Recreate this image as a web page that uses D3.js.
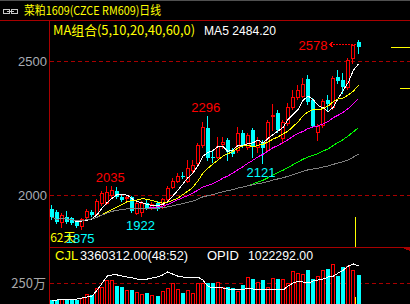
<!DOCTYPE html>
<html>
<head>
<meta charset="utf-8">
<script src="https://cdn.jsdelivr.net/npm/d3@7"></script>
<style>
html, body { margin: 0; padding: 0; background: #000; overflow: hidden; }
svg { display: block; }
</style>
</head>
<body>
<div id="chart"></div>
<script>
// 菜粕1609 日线: 开 高 低 收
var opens  = [1948,1937,1899,1918,1914,1899,1884,1918,1937,1929,1970,1970,2000,2015,1993,1989,1993,1933,1937,1970,1952,1970,1955,1985,2030,2052,2071,2052,2093,2119,2187,2250,2142,2142,2190,2205,2168,2168,2231,2179,2243,2179,2198,2168,2295,2306,2213,2269,2328,2366,2369,2433,2354,2235,2261,2354,2328,2440,2429,2403,2511,2571];
var highs  = [1963,1944,1933,1940,1918,1907,1914,1948,1944,1985,2015,2034,2035,2030,2000,1996,1996,1974,1978,1981,1974,1978,1989,2034,2063,2082,2086,2131,2131,2194,2272,2296,2168,2216,2216,2213,2175,2254,2243,2231,2250,2216,2205,2280,2340,2317,2280,2343,2392,2410,2437,2448,2362,2265,2358,2373,2444,2466,2455,2511,2563,2578];
var lows   = [1910,1896,1881,1896,1892,1881,1875,1914,1922,1925,1963,1966,1993,1989,1978,1981,1937,1929,1922,1948,1948,1944,1952,1981,2026,2049,2063,2049,2086,2112,2179,2131,2123,2138,2175,2131,2145,2160,2179,2172,2142,2160,2121,2164,2243,2235,2194,2261,2321,2358,2366,2340,2254,2205,2254,2317,2321,2418,2381,2396,2493,2530];
var closes = [1918,1899,1925,1899,1896,1884,1910,1940,1925,1978,2008,2011,2019,1993,1981,1993,1940,1970,1970,1952,1966,1948,1985,2026,2052,2071,2067,2101,2112,2187,2254,2138,2138,2183,2198,2160,2153,2231,2187,2224,2179,2205,2175,2272,2299,2243,2272,2328,2366,2392,2414,2347,2257,2257,2351,2340,2437,2425,2403,2504,2560,2552];
// 成交量 (CJL) 与 持仓量 (OPID)
var volumes = [568000,568000,682000,682000,682000,568000,795000,1250000,1136000,1932000,2045000,2841000,2841000,2159000,2045000,1705000,1705000,1477000,1250000,1364000,1136000,1023000,1591000,1932000,2500000,1818000,1364000,1705000,1364000,2500000,2500000,2500000,2500000,2614000,2045000,2045000,1932000,1591000,2273000,3182000,2955000,2614000,2841000,2045000,3068000,2955000,2955000,2500000,3864000,3636000,3523000,3977000,2955000,3295000,3977000,4091000,4659000,3295000,4318000,4432000,3977000,3360312];
var opid = [554000,567000,567000,580000,567000,580000,594000,607000,621000,701000,795000,888000,902000,902000,888000,875000,862000,848000,835000,848000,862000,875000,902000,942000,915000,888000,875000,862000,862000,875000,835000,754000,728000,741000,728000,714000,714000,714000,701000,728000,714000,714000,701000,714000,714000,701000,701000,754000,795000,821000,808000,795000,821000,835000,848000,875000,888000,929000,969000,1022000,1049000,1022292];

var maPeriods = [5, 10, 20, 40, 60];
var maColors = ["#ffffff", "#ffff00", "#ff00ff", "#00ff00", "#808080"];
var priceTicks = [2000, 2500];
var volTicks = [2500000];
var volTickLabels = ["250万"];
var highMarks = [12, 31];      // 标注最高价
var lowMarks = [6, 18, 42];    // 标注最低价
var lastMark = 61;

var RED = "#ff0000", CYAN = "#00ffff", GRID = "#a80000";

var svg = d3.select("#chart").append("svg")
    .attr("width", 410).attr("height", 304)
    .style("background", "#000")
    .attr("shape-rendering", "crispEdges");

var n = closes.length;
var x = d3.scaleLinear().domain([0, n - 1]).range([52, 358.5]);
var y = d3.scaleLinear().domain([2000, 2500]).range([195, 61]);
var yv = d3.scaleLinear().domain([0, 2500000]).range([305, 283]);
var yo = d3.scaleLinear().domain([500000, 1022292]).range([305, 266]);
function cx(i) { return Math.round(x(i)); }
function ry(v) { return Math.round(y(v)); }

// 边框
svg.append("line").attr("x1", 0).attr("x2", 410).attr("y1", 0.5).attr("y2", 0.5).attr("stroke", "#505050");
svg.append("line").attr("x1", 0).attr("x2", 410).attr("y1", 20.5).attr("y2", 20.5).attr("stroke", GRID);
svg.append("line").attr("x1", 49.5).attr("x2", 49.5).attr("y1", 20).attr("y2", 304).attr("stroke", GRID);
svg.append("line").attr("x1", 49).attr("x2", 410).attr("y1", 247.5).attr("y2", 247.5).attr("stroke", GRID);
svg.append("path").attr("d", "M400,247L410,247L410,251Z").attr("fill", GRID);

// 价格刻度
svg.selectAll(".pgrid").data(priceTicks).enter().append("line")
    .attr("x1", 50).attr("x2", 410)
    .attr("y1", function (d) { return ry(d) + 0.5; })
    .attr("y2", function (d) { return ry(d) + 0.5; })
    .attr("stroke", GRID).attr("stroke-dasharray", "4,3");
svg.selectAll(".plabel").data(priceTicks).enter().append("text")
    .attr("x", 47).attr("y", function (d) { return y(d) + 5; })
    .attr("text-anchor", "end").attr("fill", "#a8acb4")
    .style("font", "13px 'Liberation Sans', Arial, sans-serif")
    .text(function (d) { return d; });

// 成交量刻度
svg.selectAll(".vgrid").data(volTicks).enter().append("line")
    .attr("x1", 50).attr("x2", 410)
    .attr("y1", function (d) { return Math.round(yv(d)) + 0.5; })
    .attr("y2", function (d) { return Math.round(yv(d)) + 0.5; })
    .attr("stroke", GRID).attr("stroke-dasharray", "4,3");
svg.selectAll(".vlabel").data(volTicks).enter().append("text")
    .attr("x", 46).attr("y", function (d) { return yv(d) + 5; })
    .attr("text-anchor", "end").attr("fill", "#a8a8a8")
    .style("font", "13px 'Noto Sans CJK SC', sans-serif")
    .text(function (d, i) { return volTickLabels[i]; });

// 当前日竖线
svg.append("line").attr("x1", 355.5).attr("x2", 355.5).attr("y1", 217).attr("y2", 247).attr("stroke", "#ffff00");
svg.append("line").attr("x1", 355.5).attr("x2", 355.5).attr("y1", 297).attr("y2", 304).attr("stroke", "#ffff00");
svg.append("line").attr("x1", 391).attr("x2", 410).attr("y1", 47.5).attr("y2", 47.5).attr("stroke", "#ffff00");
svg.append("line").attr("x1", 400).attr("x2", 410).attr("y1", 88.5).attr("y2", 88.5).attr("stroke", "#ffff00");

// K线
var idx = d3.range(n);
var candles = svg.append("g");
idx.forEach(function (i) {
    var L = cx(i) - 2;
    var wx = L + 1.5;
    var up = closes[i] >= opens[i];
    var yh = ry(highs[i]), yl = ry(lows[i]);
    if (up) {
        var top = ry(closes[i]), bot = ry(opens[i]);
        candles.append("line").attr("x1", wx).attr("x2", wx).attr("y1", yh).attr("y2", top).attr("stroke", RED);
        candles.append("line").attr("x1", wx).attr("x2", wx).attr("y1", bot).attr("y2", yl + 1).attr("stroke", RED);
        if (bot - top < 1) {
            candles.append("line").attr("x1", L).attr("x2", L + 4).attr("y1", top + 0.5).attr("y2", top + 0.5).attr("stroke", RED);
        } else {
            candles.append("rect").attr("x", L + 0.5).attr("y", top + 0.5)
                .attr("width", 3).attr("height", bot - top)
                .attr("fill", "#000").attr("stroke", RED);
        }
    } else {
        var t = ry(opens[i]), b = ry(closes[i]);
        candles.append("line").attr("x1", wx).attr("x2", wx).attr("y1", yh).attr("y2", yl + 1).attr("stroke", CYAN);
        candles.append("rect").attr("x", L).attr("y", t)
            .attr("width", 4).attr("height", Math.max(1, b - t))
            .attr("fill", CYAN);
    }
});

// 均线
function movingAvg(p) {
    return closes.map(function (c, i) {
        return d3.mean(closes.slice(Math.max(0, i - p + 1), i + 1));
    });
}
var maLine = d3.line().x(function (d, i) { return x(i); }).y(function (d) { return y(d); });
maPeriods.forEach(function (p, k) {
    svg.append("path").attr("d", maLine(movingAvg(p)))
        .attr("fill", "none").attr("stroke", maColors[k]).attr("stroke-width", 1);
});

// 成交量柱
var vols = svg.append("g");
idx.forEach(function (i) {
    var L = cx(i) - 2;
    var top = Math.round(yv(volumes[i]));
    if (closes[i] >= opens[i]) {
        vols.append("rect").attr("x", L + 0.5).attr("y", top + 0.5)
            .attr("width", 3).attr("height", 305 - top)
            .attr("fill", "#000").attr("stroke", RED);
    } else {
        vols.append("rect").attr("x", L).attr("y", top)
            .attr("width", 4).attr("height", 305 - top)
            .attr("fill", CYAN);
    }
});
svg.append("path")
    .attr("d", d3.line().x(function (d, i) { return x(i); }).y(function (d) { return yo(d); })(opid))
    .attr("fill", "none").attr("stroke", "#ffffff");

// 高低点标注
var lab = "13px 'Liberation Sans', Arial, sans-serif";
highMarks.forEach(function (i) {
    svg.append("text").attr("x", x(i) - 2).attr("y", y(highs[i]) - 4)
        .attr("text-anchor", "middle").attr("fill", RED).style("font", lab).text(highs[i]);
});
lowMarks.forEach(function (i) {
    svg.append("text").attr("x", x(i) - 2).attr("y", y(lows[i]) + 14)
        .attr("text-anchor", "middle").attr("fill", CYAN).style("font", lab).text(lows[i]);
});
svg.append("text").attr("x", x(lowMarks[0]) - 32).attr("y", y(lows[lowMarks[0]]) + 13)
    .attr("fill", "#ffff00").style("font", "12px 'Noto Sans CJK SC', sans-serif").text("62天");
var hy = y(highs[lastMark]);
svg.append("text").attr("x", x(lastMark) - 31).attr("y", hy + 10)
    .attr("text-anchor", "end").attr("fill", RED).style("font", lab).text(highs[lastMark]);
svg.append("line").attr("x1", x(lastMark) - 29).attr("x2", x(lastMark) - 3)
    .attr("y1", Math.round(hy) + 4.5).attr("y2", Math.round(hy) + 4.5)
    .attr("stroke", RED).attr("stroke-dasharray", "2,1");
svg.append("path")
    .attr("d", "M" + (x(lastMark) - 25) + "," + (Math.round(hy) + 1.5) + "L" + (x(lastMark) - 29) + "," + (Math.round(hy) + 4.5) + "L" + (x(lastMark) - 25) + "," + (Math.round(hy) + 7.5))
    .attr("fill", "none").attr("stroke", RED);

// 标题与图例
var icon = svg.append("g").attr("stroke", "#c8c8c8").attr("fill", "none");
icon.append("rect").attr("x", 3.5).attr("y", 9.5).attr("width", 6).attr("height", 4);
icon.append("rect").attr("x", 11.5).attr("y", 9.5).attr("width", 6).attr("height", 4);
icon.append("line").attr("x1", 7).attr("x2", 14).attr("y1", 11.5).attr("y2", 11.5);

svg.append("text").attr("x", 24).attr("y", 15).attr("fill", "#ffff00")
    .attr("textLength", 137).attr("lengthAdjust", "spacingAndGlyphs")
    .style("font", "12px 'Noto Sans CJK SC', sans-serif").text("菜粕1609(CZCE RM609)日线");
svg.append("text").attr("x", 53).attr("y", 35).attr("fill", "#ffff00")
    .attr("textLength", 142).attr("lengthAdjust", "spacingAndGlyphs")
    .style("font", "13px 'Noto Sans CJK SC', sans-serif").text("MA组合(5,10,20,40,60,0)");
svg.append("text").attr("x", 204).attr("y", 35).attr("fill", "#ffffff")
    .attr("textLength", 72).attr("lengthAdjust", "spacingAndGlyphs")
    .style("font", "13px 'Liberation Sans', Arial, sans-serif").text("MA5 2484.20");

svg.append("text").attr("x", 55).attr("y", 260).attr("fill", "#ffff00")
    .style("font", "13px 'Liberation Sans', Arial, sans-serif").text("CJL");
svg.append("text").attr("x", 80).attr("y", 260).attr("fill", "#ffffff")
    .attr("textLength", 108).attr("lengthAdjust", "spacingAndGlyphs")
    .style("font", "13px 'Liberation Sans', Arial, sans-serif").text("3360312.00(48:52)");
svg.append("text").attr("x", 207).attr("y", 260).attr("fill", "#ffffff")
    .style("font", "13px 'Liberation Sans', Arial, sans-serif").text("OPID");
svg.append("text").attr("x", 248).attr("y", 260).attr("fill", "#ffffff")
    .attr("textLength", 65).attr("lengthAdjust", "spacingAndGlyphs")
    .style("font", "13px 'Liberation Sans', Arial, sans-serif").text("1022292.00");
</script>
</body>
</html>
